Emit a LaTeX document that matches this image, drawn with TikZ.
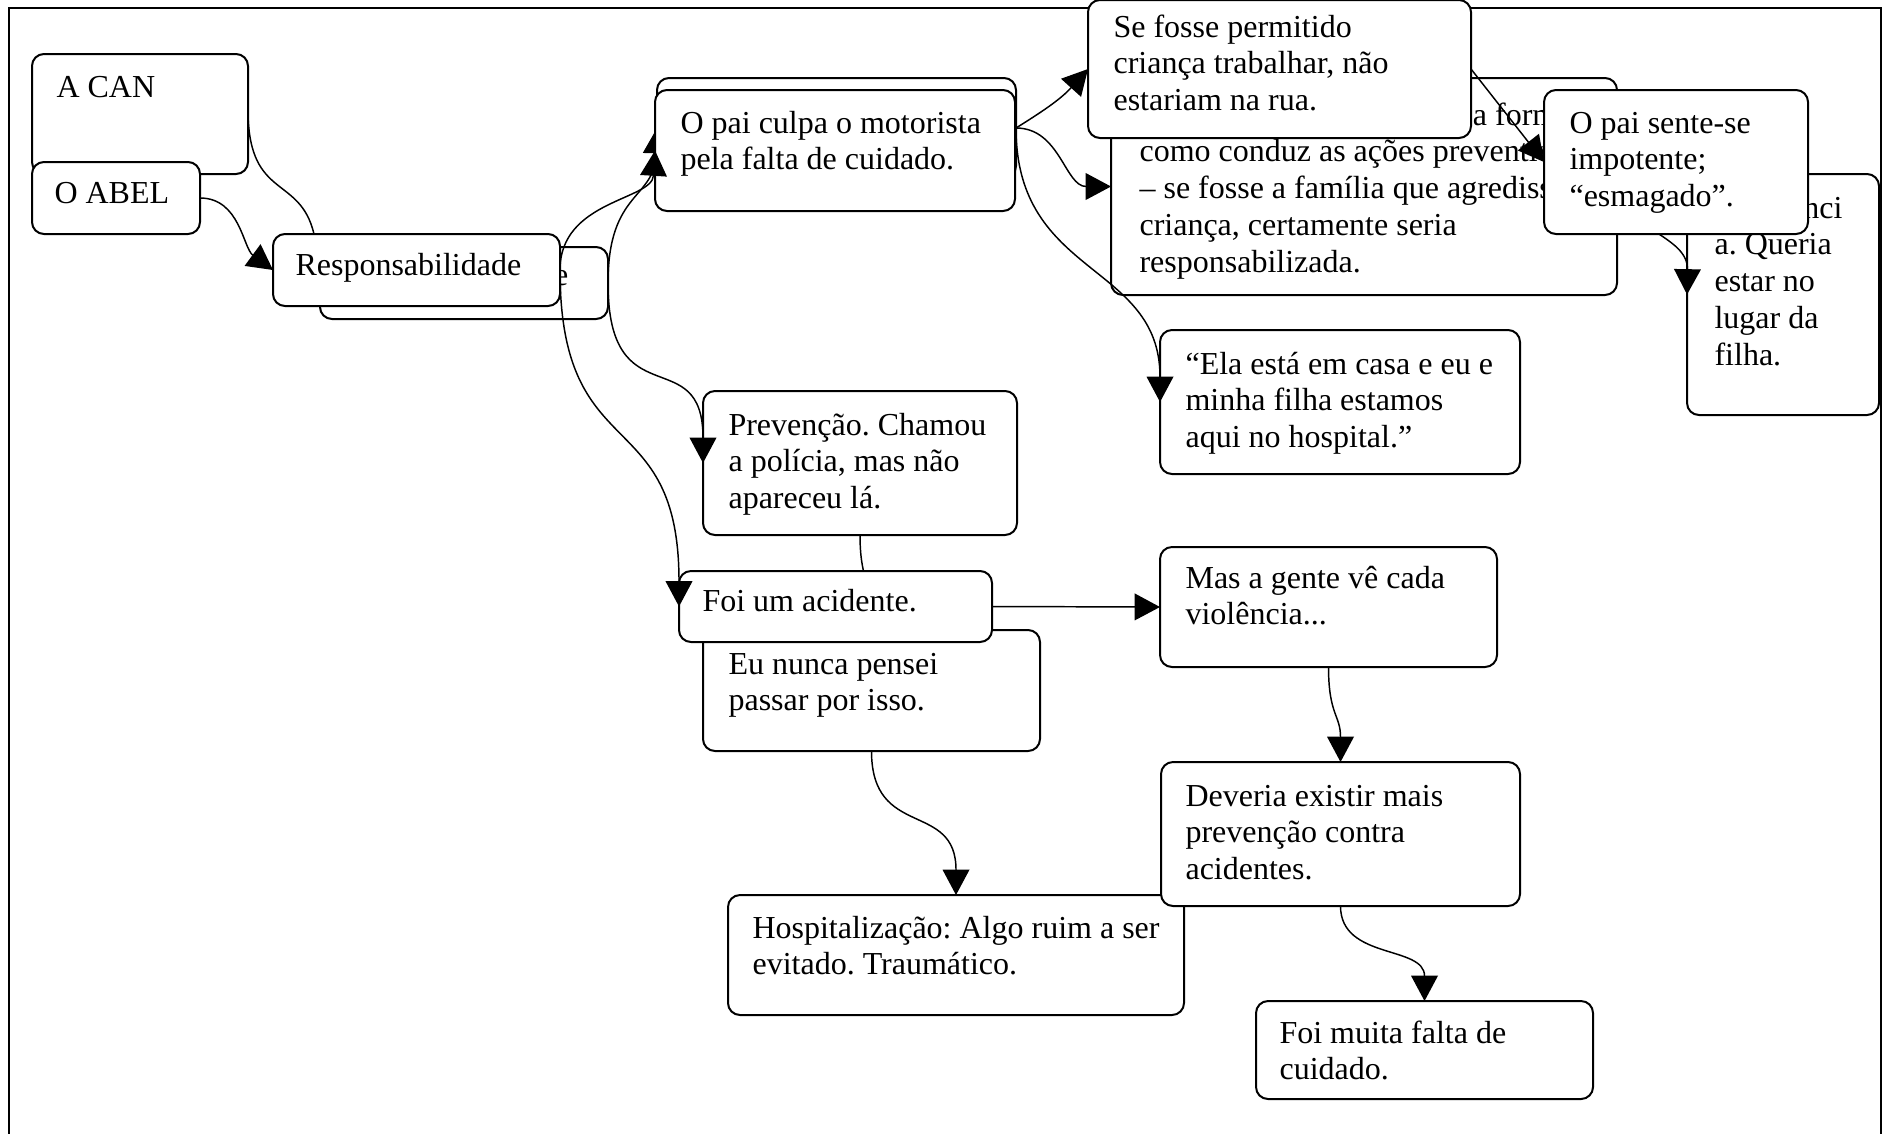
\documentclass[tikz,border=0pt]{standalone}
\usepackage{fontspec}
\setmainfont{Liberation Serif}
\usetikzlibrary{arrows.meta,calc}

\tikzset{
  bxs/.style={draw, fill=white, rounded corners=4.5pt, line width=0.75pt, outer sep=0pt, inner sep=0pt},
  txt/.style={anchor=base west, inner sep=0pt, font=\fontsize{12pt}{13.8pt}\selectfont\frenchspacing},
  con/.style={line width=0.55pt},
  arr/.style={con, -{Triangle[length=9.5pt,width=10pt]}},
  frame/.style={line width=0.75pt},
}
% rounded box given by its corners (x1,y1) and (x2,y2), in pixel units
\newcommand\boxat[5]{\node[bxs, minimum width={(#4-#2)*0.375pt}, minimum height={(#5-#3)*0.375pt}] (#1) at ({(#2+#4)/2},{(#3+#5)/2}) {};}
% multi-line text whose baseline is that of its first line
\newcommand\ml[1]{\parbox[t]{300pt}{#1}}

\begin{document}
\begin{tikzpicture}[x=0.375pt,y=-0.375pt]
\useasboundingbox (0,0) rectangle (1888,1133);

% outer frame (open at the bottom)
\draw[frame] (9,1150) -- (9,8) -- (1881,8) -- (1881,1150);

% left column
\boxat{respB}{320}{247}{608}{319}
\node[txt] (respB-t) at (342,285) {Responsabilidade};
\boxat{resp}{273}{234}{560}{306}
\node[txt] (resp-t) at (295,275) {Responsabilidade};
\boxat{acan}{32}{54}{248}{174}
\node[txt] (acan-t) at (56,97) {A CAN};
\boxat{oabel}{32}{162}{200}{234}
\node[txt] (oabel-t) at (54,203) {O ABEL};

\draw[con] (acan.east) .. controls +(2,86) and +(-14,-59) .. ($(resp.north west)+(41,0)$);
\draw[arr] (oabel.east) .. controls +(40,0) and +(-30,-22) .. (resp.west);

% father blames the driver
\boxat{paiB}{657}{78}{1016}{178}
\draw[arr] (respB.east) .. controls +(0,-93) and +(-2,72) .. (paiB.west);
\boxat{pai}{655}{90}{1015}{211}
\node[txt] (pai-t) at (680,133) {\ml{O pai culpa o motorista\\pela falta de cuidado.}};
\draw[arr] (resp.east) .. controls +(0,-70) and +(-3,50) .. (pai.west);

% upper right group
\boxat{acoes}{1111}{78}{1617}{295}
\node[txt] (acoes-t) at (1139,125) {\ml{\hspace*{125pt}a forma\\como conduz as ações preventivas\\– se fosse a família que agredisse a\\criança, certamente seria\\responsabilizada.}};
\boxat{queria}{1687}{174}{1879}{415}
\node[txt] (queria-t) at (1714,218) {\ml{impotênci\\a. Queria\\estar no\\lugar da\\filha.}};
\draw[arr] (acoes.east) .. controls +(8,44) and +(1,-59) .. (queria.west);
\boxat{sefosse}{1088}{0}{1471}{138}
\node[txt] (sefosse-t) at (1113,37) {\ml{Se fosse permitido\\criança trabalhar, não\\estariam na rua.}};
\boxat{sente}{1544}{90}{1808}{234}
\node[txt] (sente-t) at (1569,133) {\ml{O pai sente-se\\impotente;\\“esmagado”.}};
\draw[arr] (sefosse.east) -- (sente.west);

\boxat{ela}{1160}{330}{1520}{474}
\node[txt] (ela-t) at (1185,374) {\ml{“Ela está em casa e eu e\\minha filha estamos\\aqui no hospital.”}};

\draw[arr] (paiB.east) .. controls +(24,-15) and +(-28,31) .. (sefosse.west);
\draw[arr] (paiB.east) .. controls +(44,0) and +(-46,0) .. (acoes.west);
\draw[arr] (paiB.east) .. controls +(0,150) and +(0,-140) .. (ela.west);

% middle column
\boxat{nunca}{703}{630}{1040}{751}
\node[txt] (nunca-t) at (728,674) {\ml{Eu nunca pensei\\passar por isso.}};
\boxat{prev}{703}{391}{1017}{535}
\node[txt] (prev-t) at (728,435) {\ml{Prevenção. Chamou\\a polícia, mas não\\apareceu lá.}};
\draw[arr] (prev.south) .. controls +(0,45) and +(0,-45) .. (nunca.north);
\boxat{acid}{679}{571}{992}{642}
\node[txt] (acid-t) at (702,611) {Foi um acidente.};

\draw[arr] (resp.east) .. controls +(0,200) and +(0,-206) .. (acid.west);
\draw[arr] (respB.east) .. controls +(0,137) and +(0,-123) .. (prev.west);

% lower right group
\boxat{mas}{1160}{547}{1497}{667}
\node[txt] (mas-t) at (1185,588) {\ml{Mas a gente vê cada\\violência...}};
\draw[arr] (acid.east) -- (mas.west);

\boxat{hosp}{728}{895}{1184}{1015}
\node[txt] (hosp-t) at (752,938) {\ml{Hospitalização: Algo ruim a ser\\evitado. Traumático.}};
\boxat{dev}{1161}{762}{1520}{906}
\node[txt] (dev-t) at (1185,806) {\ml{Deveria existir mais\\prevenção contra\\acidentes.}};
\boxat{falta}{1256}{1001}{1593}{1099}
\node[txt] (falta-t) at (1279,1043) {\ml{Foi muita falta de\\cuidado.}};

\draw[arr] (nunca.south) .. controls +(0,89) and +(0,-95) .. (hosp.north);
\draw[arr] (mas.south) .. controls +(0,48) and +(0,-47) .. (dev.north);
\draw[arr] (dev.south) .. controls +(0,54) and +(0,-56) .. (falta.north);
\end{tikzpicture}
\end{document}
